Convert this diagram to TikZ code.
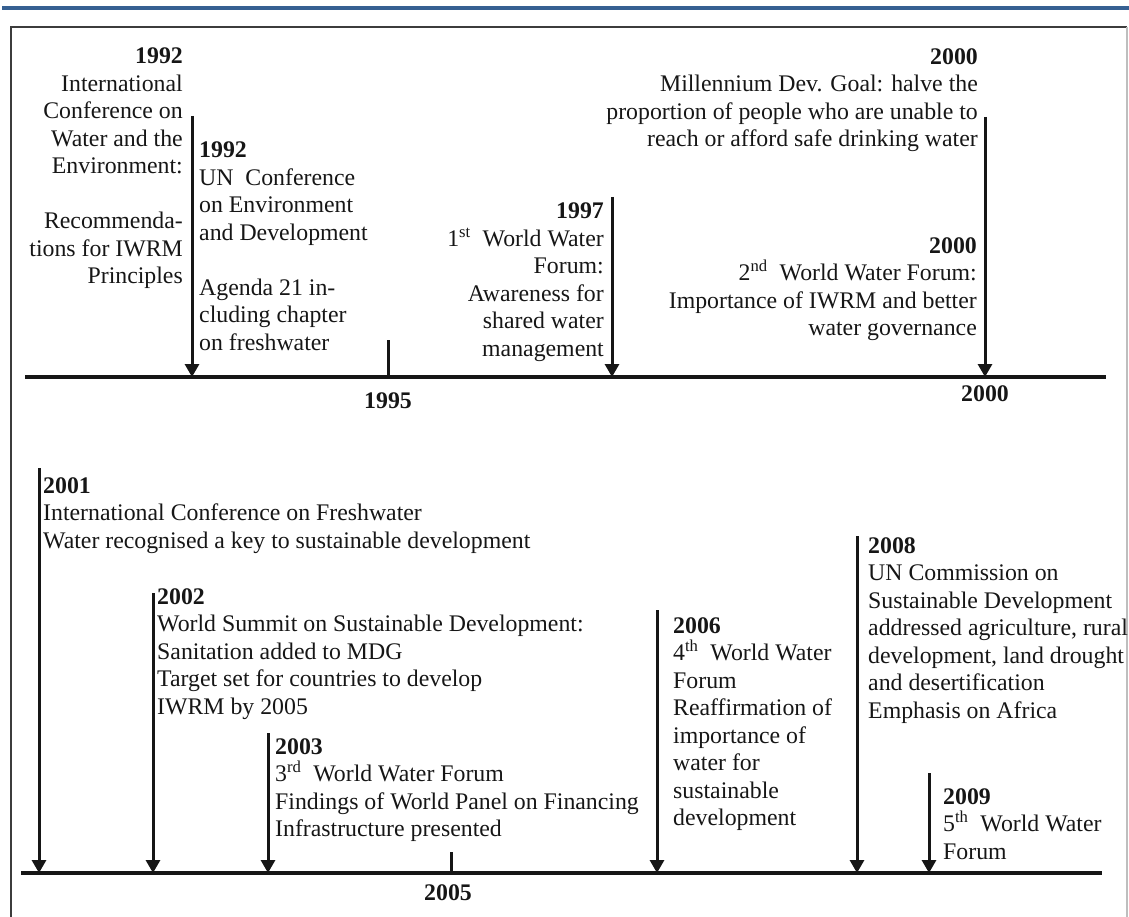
\documentclass[tikz,border=0pt]{standalone}
\usepackage{fontspec}
\setmainfont{Liberation Serif}
\usetikzlibrary{arrows.meta}
\definecolor{bandblue}{RGB}{54,96,146}
\definecolor{inkgray}{RGB}{22,22,22}
\definecolor{framedark}{RGB}{60,60,60}
\definecolor{framelight}{RGB}{190,190,190}

\tikzset{
  axisline/.style={line width=3.5pt, draw=inkgray},
  evarrow/.style={line width=3pt, draw=inkgray, -{Triangle[width=14pt,length=13pt]}},
  yeartick/.style={line width=3pt, draw=inkgray},
  evtext/.style={inner sep=0pt, font=\fontsize{23.8}{27.5}\selectfont, text=inkgray},
  lefttext/.style={evtext, align=left, anchor=north west},
  righttext/.style={evtext, align=right, anchor=north east},
  axislabel/.style={inner sep=0pt, font=\fontsize{23.8}{27.5}\selectfont\bfseries, text=inkgray},
}

\begin{document}
\begin{tikzpicture}[x=1pt,y=-1pt]
\useasboundingbox (0,0) rectangle (1129,917);

% page rule and frame
\fill[bandblue] (2,6.5) rectangle (1129,10);
\draw[framedark, line width=1.6pt] (11,917) -- (11,27) -- (1127,27);
\draw[framelight, line width=1.4pt] (1127,27) -- (1127,917);

% ---------- 1992 -- 2000 ----------
\coordinate (axAstart) at (25,377);
\coordinate (axAend) at (1106,377);
\draw[axisline] (axAstart) -- (axAend);

\coordinate (p1992top) at (192,116);  \coordinate (p1992) at (192,377);
\coordinate (p1995top) at (388,340);  \coordinate (p1995) at (388,377);
\coordinate (p1997top) at (612,197);  \coordinate (p1997) at (612,377);
\coordinate (p2000top) at (985,117);  \coordinate (p2000) at (985,377);

\draw[evarrow] (p1992top) -- (p1992);
\draw[yeartick] (p1995top) -- (p1995);
\draw[evarrow] (p1997top) -- (p1997);
\draw[evarrow] (p2000top) -- (p2000);

\node[axislabel] (l1995) at (388,401) {1995};
\node[axislabel] (l2000) at (985,394) {2000};

\node[righttext] (t1992a) at (183,48)
  {\textbf{1992}\\International\\Conference on\\Water and the\\Environment:\\[27.5pt]Recommenda-\\tions for IWRM\\Principles};
\node[lefttext] (t1992b) at (199,142)
  {\textbf{1992}\\UN~ Conference\\on Environment\\and Development\\[27.5pt]Agenda 21 in-\\cluding chapter\\on freshwater};
\node[righttext] (t1997) at (604,203)
  {\textbf{1997}\\1\textsuperscript{st}~ World Water\\Forum:\\Awareness for\\shared water\\management};
\node[righttext] (t2000a) at (978,48)
  {\textbf{2000}\\Millennium Dev. Goal: halve the\\proportion of people who are unable to\\reach or afford safe drinking water};
\node[righttext] (t2000b) at (977,237)
  {\textbf{2000}\\2\textsuperscript{nd}~ World Water Forum:\\Importance of IWRM and better\\water governance};

% ---------- 2001 -- 2009 ----------
\coordinate (axBstart) at (21,873);
\coordinate (axBend) at (1102,873);
\draw[axisline] (axBstart) -- (axBend);

\coordinate (p2001top) at (39,468);   \coordinate (p2001) at (39,873);
\coordinate (p2002top) at (153,593);  \coordinate (p2002) at (153,873);
\coordinate (p2003top) at (268,733);  \coordinate (p2003) at (268,873);
\coordinate (p2005top) at (451,852);  \coordinate (p2005) at (451,873);
\coordinate (p2006top) at (657,610);  \coordinate (p2006) at (657,873);
\coordinate (p2008top) at (857,536);  \coordinate (p2008) at (857,873);
\coordinate (p2009top) at (929,773);  \coordinate (p2009) at (929,873);

\draw[evarrow] (p2001top) -- (p2001);
\draw[evarrow] (p2002top) -- (p2002);
\draw[evarrow] (p2003top) -- (p2003);
\draw[yeartick] (p2005top) -- (p2005);
\draw[evarrow] (p2006top) -- (p2006);
\draw[evarrow] (p2008top) -- (p2008);
\draw[evarrow] (p2009top) -- (p2009);

\node[axislabel] (l2005) at (448,893) {2005};

\node[lefttext] (t2001) at (43,477)
  {\textbf{2001}\\International Conference on Freshwater\\Water recognised a key to sustainable development};
\node[lefttext] (t2002) at (157,588)
  {\textbf{2002}\\World Summit on Sustainable Development:\\Sanitation added to MDG\\Target set for countries to develop\\IWRM by 2005};
\node[lefttext] (t2003) at (275,738)
  {\textbf{2003}\\3\textsuperscript{rd}~ World Water Forum\\Findings of World Panel on Financing\\Infrastructure presented};
\node[lefttext] (t2006) at (673,617)
  {\textbf{2006}\\4\textsuperscript{th}~ World Water\\Forum\\Reaffirmation of\\importance of\\water for\\sustainable\\development};
\node[lefttext] (t2008) at (868,537)
  {\textbf{2008}\\UN Commission on\\Sustainable Development\\addressed agriculture, rural\\development, land drought\\and desertification\\Emphasis on Africa};
\node[lefttext] (t2009) at (943,788)
  {\textbf{2009}\\5\textsuperscript{th}~ World Water\\Forum};
\end{tikzpicture}
\end{document}
